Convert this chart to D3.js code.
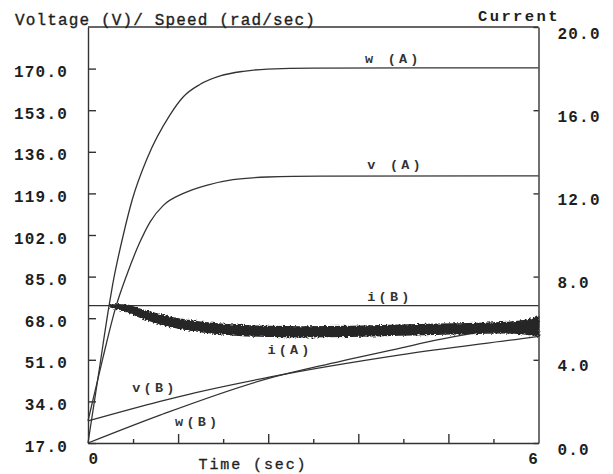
<!DOCTYPE html>
<html>
<head>
<meta charset="utf-8">
<script src="https://cdn.jsdelivr.net/npm/d3@7"></script>
<style>
  html, body { margin: 0; padding: 0; background: #fff; }
  svg { display: block; }
  text { font-family: "Liberation Mono", "DejaVu Sans Mono", monospace; fill: #1e1e1e; }
  .axis path, .axis line { stroke: #333; stroke-width: 1.4; }
  .axis text { font-size: 16px; font-weight: bold; letter-spacing: 1.2px; }
  .curve { fill: none; stroke: #333; stroke-width: 1.3; }
  .lbl { font-size: 13.5px; font-weight: bold; letter-spacing: 3.2px; fill: #333; }
</style>
</head>
<body>
<svg id="chart" width="613" height="474"></svg>
<script>
// Motor start-up: drive A vs drive B (time in seconds)
// Voltage / speed on the left axis, current on the right axis.

const leftTicks  = [17, 34, 51, 68, 85, 102, 119, 136, 153, 170];
const rightTicks = [0, 4, 8, 12, 16, 20];
const timeLabels = [0, 6];
const timeMajor  = [1.2, 2.4, 3.6, 4.8];
const timeMinor  = [0.6, 1.8, 3.0, 4.2, 5.4];

// speed w(A), rad/sec
const wA_t = [0, 0.14, 0.28, 0.33, 0.47, 0.59, 0.79, 1.09, 1.27, 1.49, 1.76, 2.07, 2.39, 3.0, 6.0];
const wA_v = [17, 45, 73, 82, 102, 116.5, 133.5, 151, 158.5, 163.5, 167, 168.9, 169.8, 170.2, 170.3];

// voltage v(A), V
const vA_t = [0, 0.2, 0.37, 0.52, 0.69, 0.83, 1.0, 1.27, 1.59, 1.93, 2.39, 3.09, 6.0];
const vA_v = [26, 52, 72.5, 86, 99, 107.5, 114, 119, 122.4, 124.6, 125.7, 126.1, 126.2];

// voltage v(B), V
const vB_t = [0, 0.96, 1.23, 2.43, 4.16, 5.93, 6.0];
const vB_v = [26, 34, 36.1, 44, 53, 60.3, 60.6];

// speed w(B), rad/sec
const wB_t = [0, 0.96, 2.43, 3.09, 4.16, 4.65, 6.0];
const wB_v = [17, 28.4, 43.6, 48.5, 55.8, 59.1, 66.0];

// current i(B), A (held constant)
const iB_t = [0, 6];
const iB_v = [6.6, 6.6];

// current i(A), A: lower and upper envelope of the measured ripple
const iA_t  = [0.30, 0.40, 0.50, 0.70, 1.05, 1.50, 1.95, 2.40, 2.85, 3.50, 4.15, 4.85, 5.50, 5.80, 6.00];
const iA_lo = [6.55, 6.45, 6.35, 6.05, 5.65, 5.36, 5.20, 5.13, 5.11, 5.13, 5.19, 5.25, 5.30, 5.25, 5.15];
const iA_hi = [6.62, 6.64, 6.62, 6.42, 6.08, 5.80, 5.66, 5.60, 5.58, 5.60, 5.66, 5.72, 5.78, 5.88, 6.05];

const svg = d3.select("#chart");
const X0 = 88, X1 = 538.5, YB = 443, YT = 27;

const x  = d3.scaleLinear().domain([0, 6]).range([X0, X1]);
const yL = d3.scaleLinear().domain([17, 187]).range([YB, YT]);
const yR = d3.scaleLinear().domain([0, 20]).range([YB, YT]);

// rough edge for the noisy current trace
const defs = svg.append("defs");
const f = defs.append("filter").attr("id", "rough")
  .attr("x", "-5%").attr("y", "-60%").attr("width", "110%").attr("height", "220%");
f.append("feTurbulence").attr("type", "fractalNoise").attr("baseFrequency", "0.45 0.7")
  .attr("numOctaves", 2).attr("seed", 7).attr("result", "n");
f.append("feDisplacementMap").attr("in", "SourceGraphic").attr("in2", "n")
  .attr("scale", 4.5).attr("xChannelSelector", "R").attr("yChannelSelector", "G");

// frame top
svg.append("line").attr("x1", X0).attr("x2", X1).attr("y1", YT).attr("y2", YT)
  .attr("stroke", "#333").attr("stroke-width", 1.4);

// left axis
const gL = svg.append("g").attr("class", "axis").attr("transform", `translate(${X0},0)`)
  .call(d3.axisLeft(yL).tickValues(leftTicks).tickFormat(d3.format(".1f"))
    .tickSizeInner(-8).tickSizeOuter(0).tickPadding(20));
gL.selectAll("text").attr("transform", "translate(0,3)");

// right axis
const gR = svg.append("g").attr("class", "axis").attr("transform", `translate(${X1},0)`)
  .call(d3.axisRight(yR).tickValues(rightTicks).tickFormat(d3.format(".1f"))
    .tickSizeInner(-5).tickSizeOuter(0).tickPadding(19));
gR.selectAll("text").attr("transform", "translate(0,6)");

// bottom axis: labels at the ends, long and short ticks between
const gB = svg.append("g").attr("class", "axis").attr("transform", `translate(0,${YB})`)
  .call(d3.axisBottom(x).tickValues(timeLabels).tickFormat(d3.format("d"))
    .tickSize(0).tickPadding(10));
gB.selectAll(".tick text").attr("text-anchor", (d, i) => i === 0 ? "start" : "end");
svg.append("g").attr("class", "axis").attr("transform", `translate(0,${YB})`)
  .call(d3.axisBottom(x).tickValues(timeMajor).tickFormat("").tickSize(-9).tickSizeOuter(0))
  .select(".domain").remove();
svg.append("g").attr("class", "axis").attr("transform", `translate(0,${YB})`)
  .call(d3.axisBottom(x).tickValues(timeMinor).tickFormat("").tickSize(-4).tickSizeOuter(0))
  .select(".domain").remove();

// curves
const zip = (ts, vs) => ts.map((t, i) => [t, vs[i]]);
const lineL = d3.line().x(d => x(d[0])).y(d => yL(d[1])).curve(d3.curveMonotoneX);
const lineR = d3.line().x(d => x(d[0])).y(d => yR(d[1])).curve(d3.curveMonotoneX);

const plot = svg.append("g");
plot.append("path").attr("class", "curve").attr("d", lineL(zip(wA_t, wA_v)));
plot.append("path").attr("class", "curve").attr("d", lineL(zip(vA_t, vA_v)));
plot.append("path").attr("class", "curve").attr("d", lineL(zip(vB_t, vB_v)));
plot.append("path").attr("class", "curve").attr("d", lineL(zip(wB_t, wB_v)));
plot.append("path").attr("class", "curve").attr("stroke-width", 1.5).attr("d", lineR(zip(iB_t, iB_v)));

const band = d3.area().x(d => x(d.t)).y0(d => yR(d.lo)).y1(d => yR(d.hi)).curve(d3.curveMonotoneX);
plot.append("path")
  .attr("d", band(iA_t.map((t, i) => ({ t, lo: iA_lo[i], hi: iA_hi[i] }))))
  .attr("fill", "#262626").attr("stroke", "#262626").attr("stroke-width", 1.6)
  .attr("filter", "url(#rough)");

// series labels
const labels = [
  { text: "w (A)", t: 3.69, v: 172.3, s: yL },
  { text: "v (A)", t: 3.72, v: 129.0, s: yL },
  { text: "i(B)",  t: 3.72, v: 6.83,  s: yR },
  { text: "i(A)",  t: 2.39, v: 4.28,  s: yR },
  { text: "v(B)",  t: 0.59, v: 37.8,  s: yL },
  { text: "w(B)",  t: 1.16, v: 23.9,  s: yL }
];
svg.append("g").selectAll("text").data(labels).join("text")
  .attr("class", "lbl")
  .attr("x", d => x(d.t)).attr("y", d => d.s(d.v))
  .text(d => d.text);

// titles
svg.append("text").attr("x", 15).attr("y", 25)
  .style("font-size", "16px").style("letter-spacing", "1.15px")
  .style("stroke", "#1e1e1e").style("stroke-width", "0.35px")
  .text("Voltage (V)/ Speed (rad/sec)");
svg.append("text").attr("x", 478).attr("y", 21)
  .style("font-size", "15.5px").style("font-weight", "bold").style("letter-spacing", "2.4px")
  .text("Current");
svg.append("text").attr("x", 253).attr("y", 469).attr("text-anchor", "middle")
  .style("font-size", "15px").style("letter-spacing", "1.9px")
  .style("stroke", "#1e1e1e").style("stroke-width", "0.3px")
  .text("Time (sec)");
</script>
</body>
</html>
